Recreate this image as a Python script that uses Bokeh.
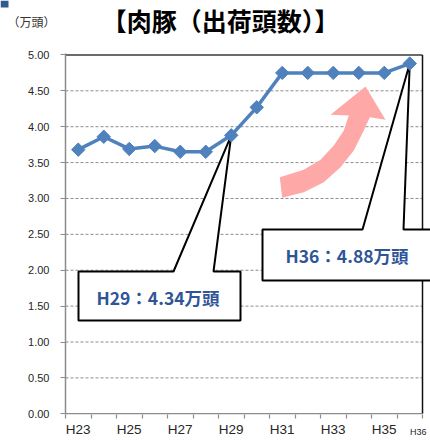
import math
from bokeh.plotting import figure
from bokeh.layouts import column
from bokeh.models import Range1d, FixedTicker, NumeralTickFormatter, LinearAxis
from bokeh.embed import file_html
from bokeh.resources import INLINE
from bokeh.core.properties import value

# ---- data ----
years = ["H23", "H24", "H25", "H26", "H27", "H28", "H29",
         "H30", "H31", "H32", "H33", "H34", "H35", "H36"]
heads = [3.68, 3.86, 3.69, 3.73, 3.65, 3.65, 3.88,
         4.27, 4.75, 4.75, 4.75, 4.75, 4.75, 4.88]
y_ticks = [0.0, 0.5, 1.0, 1.5, 2.0, 2.5, 3.0, 3.5, 4.0, 4.5, 5.0]
label_every = 2
title_text = "【肉豚（出荷頭数）】"
unit_text = "（万頭）"
callout_idx = [6, 13]
callout_text = ["H29：4.34万頭", "H36：4.88万頭"]

W = 430
TOTAL_H = 440

# ---- header (title + unit) ----
HEAD_H = 46
hd = figure(width=W, height=HEAD_H, output_backend="svg", toolbar_location=None,
            x_range=Range1d(0, W), y_range=Range1d(0, HEAD_H),
            x_axis_location=None, y_axis_location=None, min_border=0)
hd.grid.visible = False
hd.outline_line_color = None
hd.frame_align = False


def hy(Y):
    return HEAD_H - Y


hd.quad(left=[0], right=[8], top=[hy(0)], bottom=[hy(7)],
        fill_color="#2F5C8F", line_color=None)
hd.text(x=[220], y=[hy(19.5)], text=[title_text],
        text_font=value("Noto Sans CJK JP"), text_font_style="bold",
        text_font_size="25px", text_color="black",
        text_align="center", text_baseline="middle")
hd.text(x=[31], y=[hy(20.5)], text=[unit_text],
        text_font=value("Noto Sans CJK JP"), text_font_size="12px",
        text_color="#333333", text_align="center", text_baseline="middle")

# ---- geometry helpers (reference pixel -> data) ----
FRAME_L = 65
FRAME_W = W - FRAME_L
PX_X = 25.5
Y_LO, Y_HI = -0.01, 5.02
TOP_B = 7
FRAME_H = 361
PX_Y = FRAME_H / (Y_HI - Y_LO)
Y0_PAGE = HEAD_H + TOP_B + FRAME_H + Y_LO * PX_Y


def to_data(X, Y):
    return (X - FRAME_L) / PX_X, (Y0_PAGE - Y) / PX_Y


def pts(lst):
    xs, ys = [], []
    for X, Y in lst:
        x, y = to_data(X, Y)
        xs.append(x)
        ys.append(y)
    return xs, ys


n = len(years)
xc = [i + 0.5 for i in range(n)]

MAIN_H = TOTAL_H - HEAD_H
p = figure(width=W, height=MAIN_H, output_backend="svg", toolbar_location=None,
           x_range=Range1d(0, FRAME_W / PX_X), y_range=Range1d(Y_LO, Y_HI),
           min_border_left=FRAME_L, min_border_right=0, min_border_top=TOP_B,
           min_border_bottom=MAIN_H - TOP_B - FRAME_H)
p.outline_line_color = None
p.xgrid.visible = False
p.ygrid.visible = False
p.frame_align = False

GRAY = "#8c8c8c"

# y axis
ya = p.yaxis[0]
ya.ticker = FixedTicker(ticks=y_ticks)
ya.formatter = NumeralTickFormatter(format="0.00")
ya.axis_line_color = GRAY
ya.axis_line_width = 1.5
ya.major_tick_line_color = GRAY
ya.major_tick_line_width = 1.2
ya.major_tick_out = 5
ya.major_tick_in = 0
ya.minor_tick_line_color = None
ya.major_label_standoff = 11
ya.major_label_text_font = "Liberation Sans"
ya.major_label_text_font_size = "11px"
ya.major_label_text_color = "#262626"

# x axis
xa = p.xaxis[0]
lab_idx = list(range(0, n - 1, label_every))
xa.ticker = FixedTicker(ticks=[xc[i] for i in lab_idx], minor_ticks=list(range(n + 1)))
xa.major_label_overrides = {xc[i]: years[i] for i in lab_idx}
xa.axis_line_color = None
xa.major_tick_line_color = None
xa.major_tick_out = 4
xa.major_tick_in = 0
xa.minor_tick_line_color = GRAY
xa.minor_tick_line_width = 1.2
xa.minor_tick_out = 4
xa.minor_tick_in = 0
xa.major_label_standoff = 3
xa.major_label_text_font = "Liberation Sans"
xa.major_label_text_font_size = "13.5px"
xa.major_label_text_color = "#262626"

# small, offset label of the last year
H36_POS = 14.15
xa2 = LinearAxis(ticker=FixedTicker(ticks=[H36_POS]),
                 major_label_overrides={H36_POS: years[-1]},
                 axis_line_color=None, major_tick_line_color=None,
                 minor_tick_line_color=None, major_tick_out=0, major_tick_in=0,
                 minor_tick_out=0, minor_tick_in=0, major_label_standoff=-13,
                 major_label_text_font="Liberation Sans",
                 major_label_text_font_size="9px",
                 major_label_text_color="#262626")
p.add_layout(xa2, "below")

# gridlines (dashed)
gy = [t for t in y_ticks if 0 < t < 5]
p.segment(x0=[0] * len(gy), x1=[n] * len(gy), y0=gy, y1=gy,
          line_color=GRAY, line_width=1, line_dash="3 2")
# borders
p.segment(x0=[0], x1=[n], y0=[5], y1=[5], line_color="#3a3a3a", line_width=1.5)
p.segment(x0=[n], x1=[n], y0=[0], y1=[5], line_color="#111111", line_width=1.5)
p.segment(x0=[0], x1=[n], y0=[0], y1=[0], line_color=GRAY, line_width=1.5)

# pink curved arrow
arrow_px = [(279.3, 176.7), (303.3, 169.3), (320, 159.3), (333.3, 145),
            (343.3, 130), (348.3, 115), (330, 114.3), (365, 86), (385, 119.3),
            (369.3, 116.7), (363.3, 130), (353.3, 150), (340, 166.7),
            (323.3, 181.7), (303.3, 191.7), (281.7, 197.3)]
ax, ay = pts(arrow_px)
p.patch(ax, ay, fill_color="#FFA8A8", line_color=None)

# callouts
boxes = [
    dict(l=78, r=240, t=271, b=320, w1=173, w2=213),
    dict(l=262, r=460, t=229, b=280, w1=362, w2=403),
]
for k, bx in enumerate(boxes):
    tipx, tipy = xc[callout_idx[k]], heads[callout_idx[k]]
    xs, ys = pts([(bx["l"], bx["t"]), (bx["w1"], bx["t"])])
    xs2, ys2 = pts([(bx["w2"], bx["t"]), (bx["r"], bx["t"]), (bx["r"], bx["b"]),
                    (bx["l"], bx["b"])])
    p.patch(xs + [tipx] + xs2, ys + [tipy] + ys2,
            fill_color="white", line_color="black", line_width=2)

tx, ty = pts([(157.5, 296.7), (346.5, 255)])
p.text(x=tx, y=ty, text=callout_text, text_font=value("Noto Sans CJK JP"),
       text_font_style="bold", text_font_size="17.5px", text_color="#2F5597",
       text_align="center", text_baseline="middle")

# data line
p.line(xc, heads, line_color="#4F81BD", line_width=3.5)
p.scatter(xc, heads, marker="square", angle=math.pi / 4, size=9.5,
          fill_color="#4F81BD", line_color="#4F81BD")

layout = column(hd, p, spacing=0)
open("out.html", "w").write(file_html(layout, INLINE))
